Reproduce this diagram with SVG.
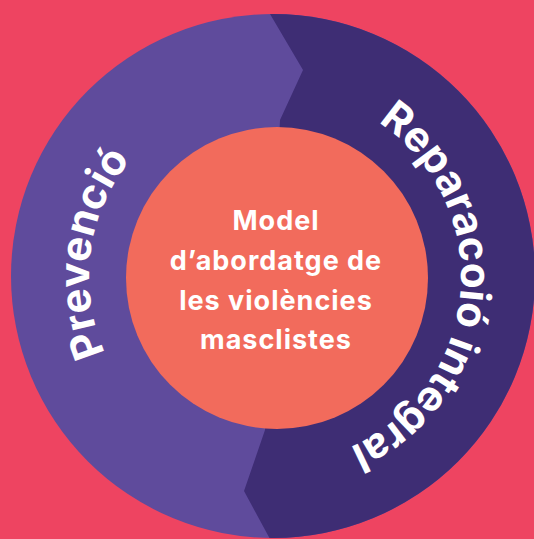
<svg xmlns="http://www.w3.org/2000/svg" width="534" height="539" viewBox="0 0 534 539">
  <defs>
    <clipPath id="outerClip">
      <circle cx="273" cy="276" r="262"/>
    </clipPath>
    <path id="arcLeft" d="M161.8,424.6 A186,186 0 0 1 203.8,105.2"/>
    <path id="arcRight" d="M323.1,97.3 A186,186 0 0 1 291.2,462.3"/>
    <style>
      .ring { font-family: Inter, "Open Sans", "Liberation Sans", sans-serif; font-weight: 700; font-size: 42px; fill: #ffffff; }
      .center { font-family: Inter, "Open Sans", "Liberation Sans", sans-serif; font-weight: 700; font-size: 27px; letter-spacing: 1px; fill: #ffffff; text-anchor: middle; }
    </style>
  </defs>
  <rect id="background" x="0" y="0" width="534" height="539" fill="#EE4461"/>
  <g id="prevencio">
    <circle cx="273" cy="276" r="262" fill="#5F4B9C"/>
    <text class="ring"><textPath href="#arcLeft" startOffset="50%" text-anchor="middle">Prevenció</textPath></text>
  </g>
  <g id="reparacio">
    <polygon clip-path="url(#outerClip)" fill="#3E2D74" points="270,0 270,14 303,70 280,120 265,430 244,491 270,539 534,539 534,0"/>
    <text class="ring"><textPath href="#arcRight" startOffset="50%" text-anchor="middle">Reparacoió integral</textPath></text>
  </g>
  <g id="model">
    <circle cx="277" cy="278" r="151" fill="#F26B5C"/>
    <text class="center" x="276" y="230">Model</text>
    <text class="center" x="276" y="270">d’abordatge de</text>
    <text class="center" x="276" y="310">les violències</text>
    <text class="center" x="276" y="349">masclistes</text>
  </g>
  <g id="connectors"/>
</svg>
